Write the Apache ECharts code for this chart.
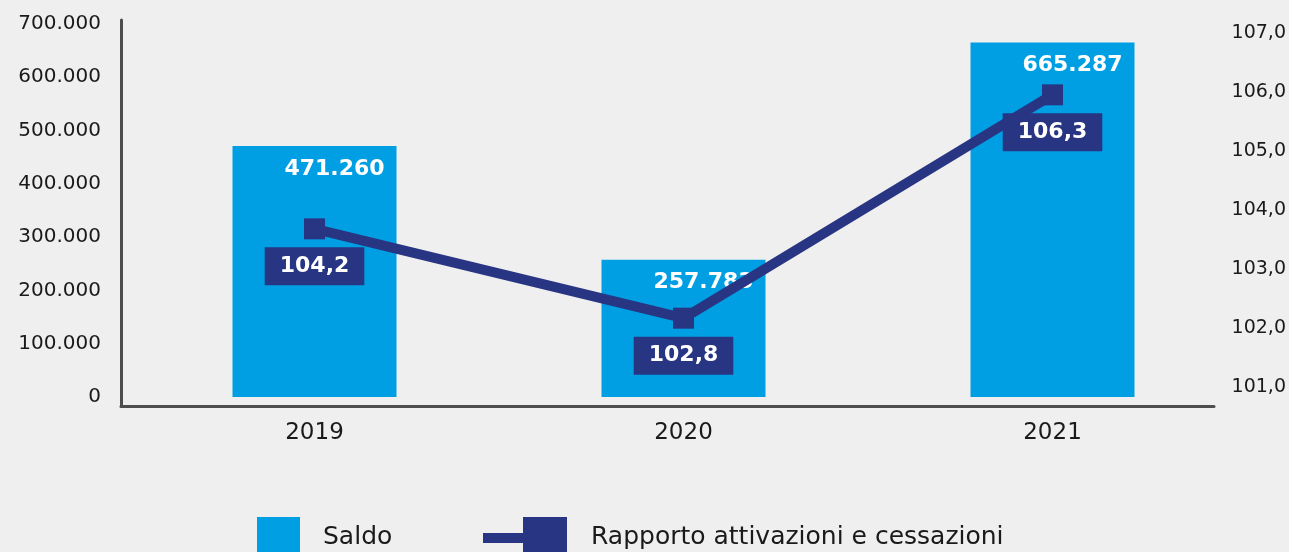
<!DOCTYPE html>
<html>
<head>
<meta charset="utf-8">
<script src="https://cdn.jsdelivr.net/npm/echarts@6/dist/echarts.min.js"></script>
<style>
html,body{margin:0;padding:0;background:#efefef;}
#chart{width:1289px;height:552px;}
</style>
</head>
<body>
<div id="chart"></div>
<script>
const categories = ['2019', '2020', '2021'];
const saldo = [471260, 257783, 665287];
const rapporto = [104.2, 102.8, 106.3];
const seriesNames = ['Saldo', 'Rapporto attivazioni e cessazioni'];

const FONT = 'DejaVu Sans';
const BAR = '#009fe3';
const NAVY = '#283583';

function thousands(v) {
  return String(Math.round(v)).replace(/\B(?=(\d{3})+(?!\d))/g, '.');
}
function decimalComma(v) {
  return Number(v).toFixed(1).replace('.', ',');
}

const chart = echarts.init(document.getElementById('chart'), null, {renderer: 'canvas'});
chart.setOption({
  backgroundColor: '#efefef',
  animation: false,
  textStyle: {fontFamily: FONT},
  grid: [
    {left: 130, right: 52, top: 24, bottom: 155},
    {left: 121, right: 75, top: 20, bottom: 146},
    {left: 130, right: 53, top: 33, bottom: 165}
  ],
  legend: [
    {
      data: [seriesNames[0]], left: 257, top: 517, padding: 0,
      itemWidth: 43, itemHeight: 40, icon: 'rect',
      textStyle: {fontFamily: FONT, fontSize: 25, color: '#1a1a1a', padding: [0, 0, 0, 18]}
    },
    {
      data: [seriesNames[1]], left: 483, top: 517, padding: 0,
      itemWidth: 84, itemHeight: 40,
      icon: 'path://M0,16 L40,16 L40,0 L84,0 L84,40 L40,40 L40,26 L0,26 Z',
      textStyle: {fontFamily: FONT, fontSize: 25, color: '#1a1a1a', padding: [0, 0, 0, 19]}
    }
  ],
  xAxis: [
    {
      type: 'category', gridIndex: 0, data: categories, boundaryGap: true,
      axisLine: {show: false}, axisTick: {show: false},
      axisLabel: {fontFamily: FONT, fontSize: 23, color: '#1a1a1a', margin: 25}
    },
    {
      type: 'category', gridIndex: 1, data: categories,
      axisLine: {show: true, lineStyle: {color: '#4d4d4d', width: 3}},
      axisTick: {show: false}, axisLabel: {show: false}, splitLine: {show: false}
    },
    {
      type: 'category', gridIndex: 2, data: categories, show: false
    }
  ],
  yAxis: [
    {
      type: 'value', gridIndex: 0, min: 0, max: 700000, interval: 100000,
      axisLine: {show: false}, axisTick: {show: false}, splitLine: {show: false},
      axisLabel: {fontFamily: FONT, fontSize: 20, color: '#1a1a1a', margin: 29, formatter: thousands}
    },
    {
      type: 'value', gridIndex: 0, position: 'right', min: 101.565, max: 107.41,
      show: false, splitLine: {show: false}
    },
    {
      type: 'value', gridIndex: 1, min: 0, max: 1,
      axisLine: {show: true, lineStyle: {color: '#4d4d4d', width: 3}},
      axisTick: {show: false}, axisLabel: {show: false}, splitLine: {show: false}
    },
    {
      type: 'value', gridIndex: 2, position: 'right', min: 101, max: 107, interval: 1,
      axisLine: {show: false}, axisTick: {show: false}, splitLine: {show: false},
      axisLabel: {fontFamily: FONT, fontSize: 19, color: '#1a1a1a', margin: 50, align: 'right', formatter: decimalComma}
    }
  ],
  series: [
    {
      name: seriesNames[0], type: 'bar', xAxisIndex: 0, yAxisIndex: 0,
      data: saldo, barWidth: 164,
      itemStyle: {color: BAR},
      label: {
        show: true, position: 'insideTop', distance: 12, offset: [20, 0],
        color: '#ffffff', fontFamily: FONT, fontWeight: 'bold', fontSize: 22,
        formatter: p => thousands(p.value)
      },
      z: 2
    },
    {
      name: seriesNames[1], type: 'line', xAxisIndex: 0, yAxisIndex: 1,
      data: rapporto,
      symbol: 'rect', symbolSize: 21,
      lineStyle: {color: NAVY, width: 10},
      itemStyle: {color: NAVY},
      label: {
        show: true, position: 'bottom', distance: 8,
        backgroundColor: NAVY, padding: [8, 15, 8, 15],
        color: '#ffffff', fontFamily: FONT, fontWeight: 'bold', fontSize: 22,
        formatter: p => decimalComma(p.value)
      },
      z: 5
    }
  ]
});
</script>
</body>
</html>
